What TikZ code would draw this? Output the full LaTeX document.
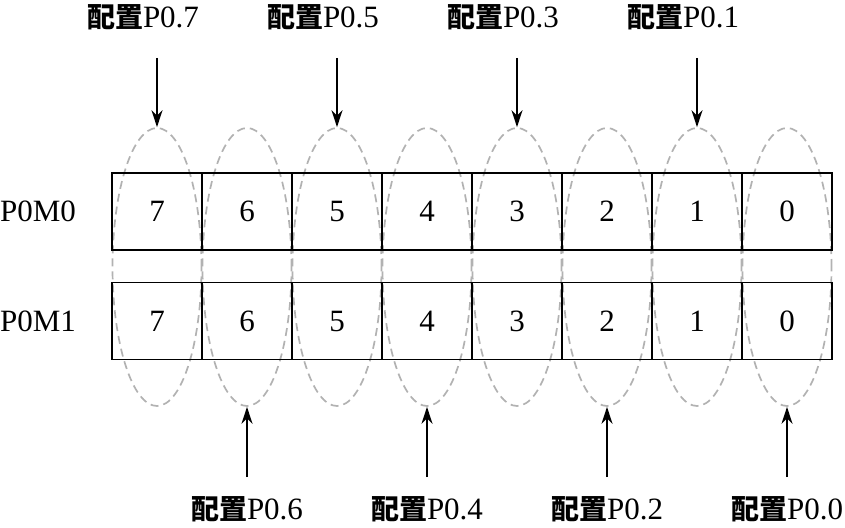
\documentclass[tikz,border=0pt]{standalone}
\usepackage{fontspec}
\setmainfont{Liberation Serif}
\newfontfamily\cjk{Noto Sans CJK SC}
\usetikzlibrary{shapes.geometric,arrows.meta}
\tikzset{
  cell/.style={draw=black, line width=1.7pt, minimum width=90pt, minimum height=77pt, inner sep=0pt, font=\fontsize{31}{36}\selectfont},
  rowlabel/.style={inner sep=0pt, font=\fontsize{31}{36}\selectfont},
  grp/.style={ellipse, draw=black!30, line width=1.7pt, dash pattern=on 8pt off 5pt, minimum width=89pt, minimum height=278pt, inner sep=0pt},
  cfg/.style={inner sep=0pt, font=\fontsize{31}{36}\selectfont},
  ptr/.style={line width=1.8pt, -{Stealth[length=17pt,width=11pt]}}
}
\newcommand{\cfgtext}[1]{{\cjk\bfseries\fontsize{28}{30}\selectfont 配置}P0.#1}
\begin{document}
\begin{tikzpicture}[x=1pt,y=-1pt]
\useasboundingbox (0,0) rectangle (845,527);
% ellipses
\foreach \i in {7,...,0}{
  \node[grp] (e\i) at ({157+(7-\i)*90},267) {};
}
% row labels
\node[rowlabel] (r0) at (38,211.5) {P0M0};
\node[rowlabel] (r1) at (38,321) {P0M1};
% cells
\foreach \i in {7,...,0}{
  \node[cell] (a\i) at ({157+(7-\i)*90},211.5) {\i};
  \node[cell] (b\i) at ({157+(7-\i)*90},321) {\i};
}
% top labels and arrows
\foreach \i in {7,5,3,1}{
  \node[cfg] (t\i) at ({143+(7-\i)*90},17) {\cfgtext{\i}};
  \coordinate (ts\i) at ({157+(7-\i)*90},58);
  \draw[ptr] (ts\i) -- (e\i.north);
}
% bottom labels and arrows
\foreach \i in {6,4,2,0}{
  \node[cfg] (u\i) at ({157+(7-\i)*90},509) {\cfgtext{\i}};
  \coordinate (us\i) at ({157+(7-\i)*90},477);
  \draw[ptr] (us\i) -- (e\i.south);
}
\end{tikzpicture}
\end{document}
